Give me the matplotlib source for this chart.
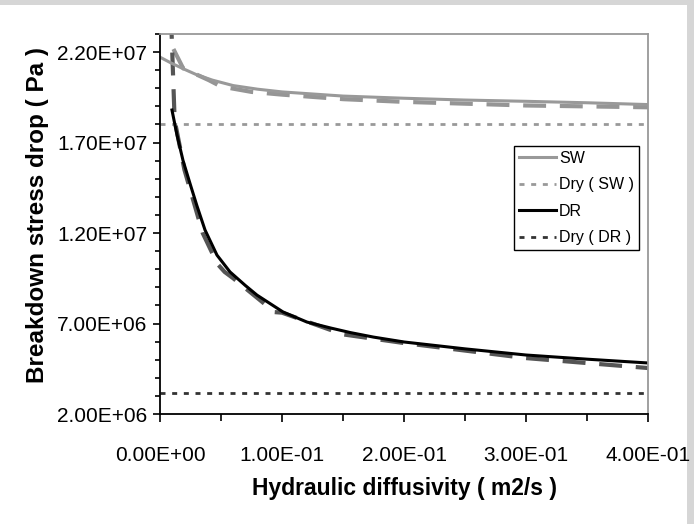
import matplotlib
matplotlib.use('Agg')
import matplotlib.pyplot as plt
from matplotlib.patches import Rectangle
from matplotlib.ticker import MultipleLocator, FormatStrFormatter

plt.rcParams['font.family'] = ['Liberation Sans', 'DejaVu Sans']

# measured curves (hydraulic diffusivity m2/s, breakdown stress drop Pa)
sw_x = [0.0, 0.009, 0.02, 0.03, 0.043, 0.06, 0.08, 0.1, 0.15, 0.2, 0.25, 0.3,
        0.35, 0.4]
sw_y = [2.172e7, 2.14e7, 2.105e7, 2.075e7, 2.045e7, 2.015e7, 1.995e7, 1.98e7,
        1.957e7, 1.945e7, 1.935e7, 1.928e7, 1.92e7, 1.91e7]

# approximated curves (dashed, not in legend)
sw_fit_x = [0.011, 0.019, 0.04, 0.05, 0.075, 0.1, 0.15, 0.2, 0.3, 0.4]
sw_fit_y = [2.217e7, 2.11e7, 2.045e7, 2.01e7, 1.98e7, 1.965e7, 1.94e7,
            1.925e7, 1.905e7, 1.895e7]

dr_x = [0.0098, 0.014, 0.0189, 0.025, 0.0303, 0.0369, 0.0467, 0.0574, 0.07,
        0.0795, 0.1008, 0.1205, 0.14, 0.156, 0.175, 0.2, 0.25, 0.3, 0.35, 0.4]
dr_y = [1.88e7, 1.74e7, 1.6e7, 1.465e7, 1.35e7, 1.217e7, 1.078e7, 9.85e6,
        9.1e6, 8.57e6, 7.64e6, 7.08e6, 6.75e6, 6.5e6, 6.25e6, 5.98e6, 5.6e6,
        5.26e6, 5.03e6, 4.82e6]

dr_fit_x = [0.009, 0.012, 0.02, 0.035, 0.047, 0.053, 0.06, 0.094, 0.1, 0.15,
            0.2, 0.3, 0.4]
dr_fit_y = [2.4e7, 1.824e7, 1.55e7, 1.2e7, 1.03e7, 9.85e6, 9.5e6, 7.63e6,
            7.6e6, 6.4e6, 5.92e6, 5.09e6, 4.54e6]

dry_sw = 1.8e7
dry_dr = 3.15e6

fig = plt.figure(figsize=(6.94, 5.24), dpi=100, facecolor='#d6d6d6')
fig.patches.append(Rectangle((0, 0), 687 / 694, 1 - 5 / 524, transform=fig.transFigure,
                             facecolor='white', edgecolor='none', zorder=-10))
ax = fig.add_axes([160 / 694, 1 - 414 / 524, 488 / 694, 380 / 524])
ax.set_facecolor('white')

ax.plot(sw_fit_x, sw_fit_y, color='#959595', lw=3, dashes=(5.5, 3.3))
ax.plot(dr_fit_x, dr_fit_y, color='#555555', lw=3, dashes=(5.5, 3.3))
ax.plot(sw_x, sw_y, color='#999999', lw=2.2, label='SW')
ax.axhline(dry_sw, color='#999999', lw=2, dashes=(1.8, 2.4), label='Dry ( SW )')
ax.plot(dr_x, dr_y, color='black', lw=2.2, label='DR')
ax.axhline(dry_dr, color='#333333', lw=2, dashes=(1.8, 2.4), label='Dry ( DR )')

ax.set_xlim(0, 0.4)
ax.set_ylim(2e6, 2.3e7)
ax.xaxis.set_major_locator(MultipleLocator(0.1))
ax.xaxis.set_minor_locator(MultipleLocator(0.05))
ax.yaxis.set_major_locator(MultipleLocator(5e6, offset=2e6))
ax.yaxis.set_minor_locator(MultipleLocator(1e6))
ax.xaxis.set_major_formatter(FormatStrFormatter('%.2E'))
ax.yaxis.set_major_formatter(FormatStrFormatter('%.2E'))

ax.tick_params(axis='both', which='both', direction='out', width=1.2, labelsize=15)
ax.tick_params(axis='y', which='major', length=5, pad=4)
ax.tick_params(axis='y', which='minor', length=3.5)
ax.tick_params(axis='x', which='major', length=6, pad=17)
ax.tick_params(axis='x', which='minor', length=5)

for s in ['left', 'bottom']:
    ax.spines[s].set_color('black')
    ax.spines[s].set_linewidth(1.3)
for s in ['top', 'right']:
    ax.spines[s].set_color('#999999')
    ax.spines[s].set_linewidth(1.3)

fig.text(404 / 694, 1 - 488 / 524, 'Hydraulic diffusivity ( m2/s )', ha='center',
         va='center', fontsize=16.5, fontweight='bold')
fig.text(38 / 694, 1 - 215 / 524, 'Breakdown stress drop ( Pa )', ha='center',
         va='center', rotation=90, fontsize=17.5, fontweight='bold')

leg = ax.legend(loc='upper right', bbox_to_anchor=(639 / 694, 1 - 146 / 524),
                bbox_transform=fig.transFigure, borderaxespad=0, fancybox=False,
                framealpha=1, edgecolor='black', fontsize=11.5, handlelength=2.3,
                handletextpad=0.2, labelspacing=0.72, borderpad=0.3)
leg.get_frame().set_linewidth(1)

fig.savefig('out.png', dpi=100, facecolor=fig.get_facecolor())
